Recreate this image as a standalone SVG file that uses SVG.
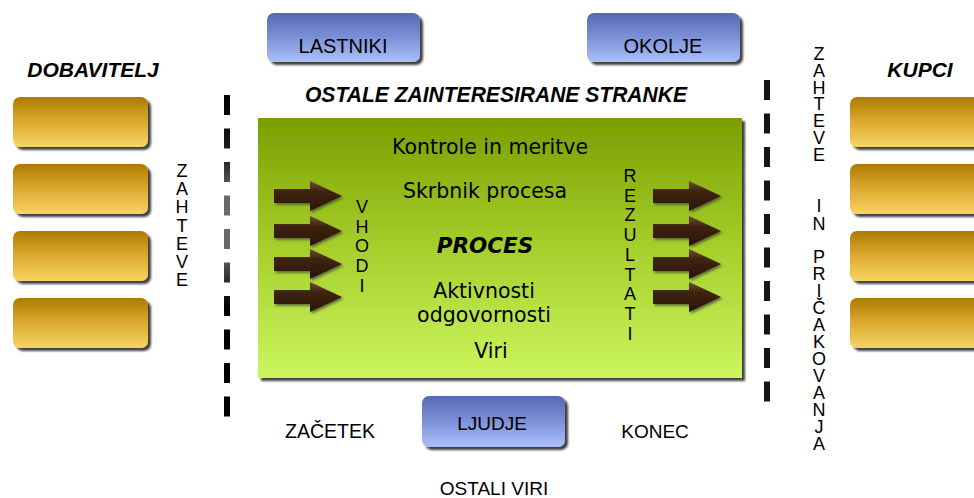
<svg xmlns="http://www.w3.org/2000/svg" width="974" height="498" viewBox="0 0 974 498">
  <defs>
    <linearGradient id="gold" x1="0" y1="0" x2="0" y2="1">
      <stop offset="0" stop-color="#ad7b00"/>
      <stop offset="0.45" stop-color="#d8a62c"/>
      <stop offset="1" stop-color="#f7d462"/>
    </linearGradient>
    <linearGradient id="blue" x1="0" y1="0" x2="0" y2="1">
      <stop offset="0" stop-color="#5568b2"/>
      <stop offset="0.5" stop-color="#7d91d8"/>
      <stop offset="1" stop-color="#abc0fa"/>
    </linearGradient>
    <linearGradient id="green" x1="0" y1="0" x2="0" y2="1">
      <stop offset="0" stop-color="#7a9e00"/>
      <stop offset="0.5" stop-color="#a6cf2c"/>
      <stop offset="1" stop-color="#cbf65e"/>
    </linearGradient>
    <linearGradient id="brown" x1="0" y1="0" x2="0" y2="1">
      <stop offset="0" stop-color="#6e4e35"/>
      <stop offset="0.35" stop-color="#3e230f"/>
      <stop offset="1" stop-color="#2a1505"/>
    </linearGradient>
    <linearGradient id="leftDash" gradientUnits="userSpaceOnUse" x1="0" y1="95" x2="0" y2="418">
      <stop offset="0" stop-color="#000"/>
      <stop offset="0.2" stop-color="#222"/>
      <stop offset="0.3" stop-color="#6a6a6a"/>
      <stop offset="0.48" stop-color="#6a6a6a"/>
      <stop offset="0.58" stop-color="#2a2a2a"/>
      <stop offset="0.66" stop-color="#000"/>
      <stop offset="1" stop-color="#000"/>
    </linearGradient>
    <filter id="shadow" x="-10%" y="-10%" width="125%" height="135%">
      <feDropShadow dx="3" dy="3" stdDeviation="1.3" flood-color="#000" flood-opacity="0.75"/>
    </filter>
    <filter id="arrowShadow" x="-10%" y="-20%" width="130%" height="150%">
      <feDropShadow dx="1.5" dy="2" stdDeviation="1" flood-color="#333" flood-opacity="0.6"/>
    </filter>
    <path id="arrow" d="M0,-7 H36 V-15 L68,0 L36,15 V7 H0 Z"/>
    <style>
      .lbl { font-family: "Liberation Sans", Arial, sans-serif; fill: #000; }
      .head { font-family: "Liberation Sans", Arial, sans-serif; font-weight: bold; font-style: italic; fill: #000; }
      .inner { font-family: "DejaVu Sans", Verdana, sans-serif; font-size: 20.5px; fill: #000; text-anchor: middle; }
      .vert { font-family: "Liberation Sans", Arial, sans-serif; font-size: 18px; fill: #000; text-anchor: middle; }
      .goldbox { fill: url(#gold); filter: url(#shadow); }
      .bluebox { fill: url(#blue); filter: url(#shadow); }
      .arr { fill: url(#brown); filter: url(#arrowShadow); }
    </style>
  </defs>

  <rect width="974" height="498" fill="#fff"/>

  <!-- suppliers -->
  <g id="dobavitelj">
    <text class="head" x="93" y="77" font-size="21" text-anchor="middle">DOBAVITELJ</text>
    <rect class="goldbox" x="13" y="97" width="135" height="50" rx="7"/>
    <rect class="goldbox" x="13" y="164" width="135" height="50" rx="7"/>
    <rect class="goldbox" x="13" y="231" width="135" height="50" rx="7"/>
    <rect class="goldbox" x="13" y="298" width="135" height="50" rx="7"/>
  </g>

  <!-- customers -->
  <g id="kupci">
    <text class="head" x="920" y="77" font-size="21" text-anchor="middle">KUPCI</text>
    <rect class="goldbox" x="850" y="97" width="140" height="50" rx="7"/>
    <rect class="goldbox" x="850" y="164" width="140" height="50" rx="7"/>
    <rect class="goldbox" x="850" y="231" width="140" height="50" rx="7"/>
    <rect class="goldbox" x="850" y="298" width="140" height="50" rx="7"/>
  </g>

  <!-- requirements (left), one letter per line -->
  <g id="zahteve">
    <text class="vert"><tspan x="182" y="177">Z</tspan><tspan x="182" y="195">A</tspan><tspan x="182" y="213">H</tspan><tspan x="182" y="232">T</tspan><tspan x="182" y="250">E</tspan><tspan x="182" y="268">V</tspan><tspan x="182" y="286">E</tspan></text>
  </g>

  <!-- requirements and expectations (right), one letter per line -->
  <g id="zahteve-in-pricakovanja">
    <text class="vert"><tspan x="819" y="60">Z</tspan><tspan x="819" y="77">A</tspan><tspan x="819" y="94">H</tspan><tspan x="819" y="110">T</tspan><tspan x="819" y="127">E</tspan><tspan x="819" y="144">V</tspan><tspan x="819" y="161">E</tspan><tspan x="819" y="212">I</tspan><tspan x="819" y="230">N</tspan><tspan x="819" y="263">P</tspan><tspan x="819" y="280">R</tspan><tspan x="819" y="297">I</tspan><tspan x="819" y="314">Č</tspan><tspan x="819" y="331">A</tspan><tspan x="819" y="348">K</tspan><tspan x="819" y="365">O</tspan><tspan x="819" y="382">V</tspan><tspan x="819" y="399">A</tspan><tspan x="819" y="416">N</tspan><tspan x="819" y="433">J</tspan><tspan x="819" y="450">A</tspan></text>
  </g>

  <!-- process boundaries -->
  <g id="boundaries">
    <line x1="227" y1="95" x2="227" y2="418" stroke="url(#leftDash)" stroke-width="6" stroke-dasharray="20 13.5"/>
    <line x1="767" y1="80" x2="767" y2="403" stroke="#161616" stroke-width="6" stroke-dasharray="20 13.5"/>
  </g>

  <!-- stakeholders -->
  <g id="lastniki">
    <rect class="bluebox" x="267" y="13" width="153" height="49" rx="7"/>
    <text class="lbl" x="343" y="53" font-size="20" text-anchor="middle">LASTNIKI</text>
  </g>
  <g id="okolje">
    <rect class="bluebox" x="587" y="13" width="153" height="49" rx="7"/>
    <text class="lbl" x="663" y="53" font-size="20" text-anchor="middle">OKOLJE</text>
  </g>
  <g id="ostale-stranke">
    <text class="head" x="496" y="102" font-size="22" text-anchor="middle" textLength="382" lengthAdjust="spacingAndGlyphs">OSTALE ZAINTERESIRANE STRANKE</text>
  </g>

  <!-- the process -->
  <g id="proces">
    <rect x="258" y="118" width="484" height="260" fill="url(#green)" filter="url(#shadow)"/>
    <text class="inner" x="490" y="154">Kontrole in meritve</text>
    <text class="inner" x="485" y="198">Skrbnik procesa</text>
    <text x="485" y="253" font-family="'DejaVu Sans', Verdana, sans-serif" font-size="21.5" font-weight="bold" font-style="italic" text-anchor="middle">PROCES</text>
    <text class="inner" x="484" y="298">Aktivnosti</text>
    <text class="inner" x="484" y="322">odgovornosti</text>
    <text class="inner" x="491" y="358">Viri</text>
  </g>

  <g id="vhodi">
    <text class="vert"><tspan x="362" y="213">V</tspan><tspan x="362" y="233">H</tspan><tspan x="362" y="252">O</tspan><tspan x="362" y="272">D</tspan><tspan x="362" y="292">I</tspan></text>
  </g>

  <g id="rezultati">
    <text class="vert"><tspan x="630" y="182">R</tspan><tspan x="630" y="202">E</tspan><tspan x="630" y="221">Z</tspan><tspan x="630" y="241">U</tspan><tspan x="630" y="261">L</tspan><tspan x="630" y="281">T</tspan><tspan x="630" y="300">A</tspan><tspan x="630" y="320">T</tspan><tspan x="630" y="340">I</tspan></text>
  </g>

  <!-- input and output flows -->
  <g id="connectors">
    <use href="#arrow" class="arr" x="274" y="196"/>
    <use href="#arrow" class="arr" x="274" y="231"/>
    <use href="#arrow" class="arr" x="274" y="264"/>
    <use href="#arrow" class="arr" x="274" y="297"/>
    <use href="#arrow" class="arr" x="653" y="196"/>
    <use href="#arrow" class="arr" x="653" y="231"/>
    <use href="#arrow" class="arr" x="653" y="264"/>
    <use href="#arrow" class="arr" x="653" y="297"/>
  </g>

  <!-- resources -->
  <g id="zacetek">
    <text class="lbl" x="330" y="438" font-size="19.5" text-anchor="middle">ZAČETEK</text>
  </g>
  <g id="ljudje">
    <rect class="bluebox" x="422" y="396" width="143" height="51" rx="7"/>
    <text class="lbl" x="492" y="430" font-size="19" text-anchor="middle">LJUDJE</text>
  </g>
  <g id="konec">
    <text class="lbl" x="655" y="438" font-size="19" text-anchor="middle">KONEC</text>
  </g>
  <g id="ostali-viri">
    <text class="lbl" x="494" y="495" font-size="19" text-anchor="middle">OSTALI VIRI</text>
  </g>
</svg>
